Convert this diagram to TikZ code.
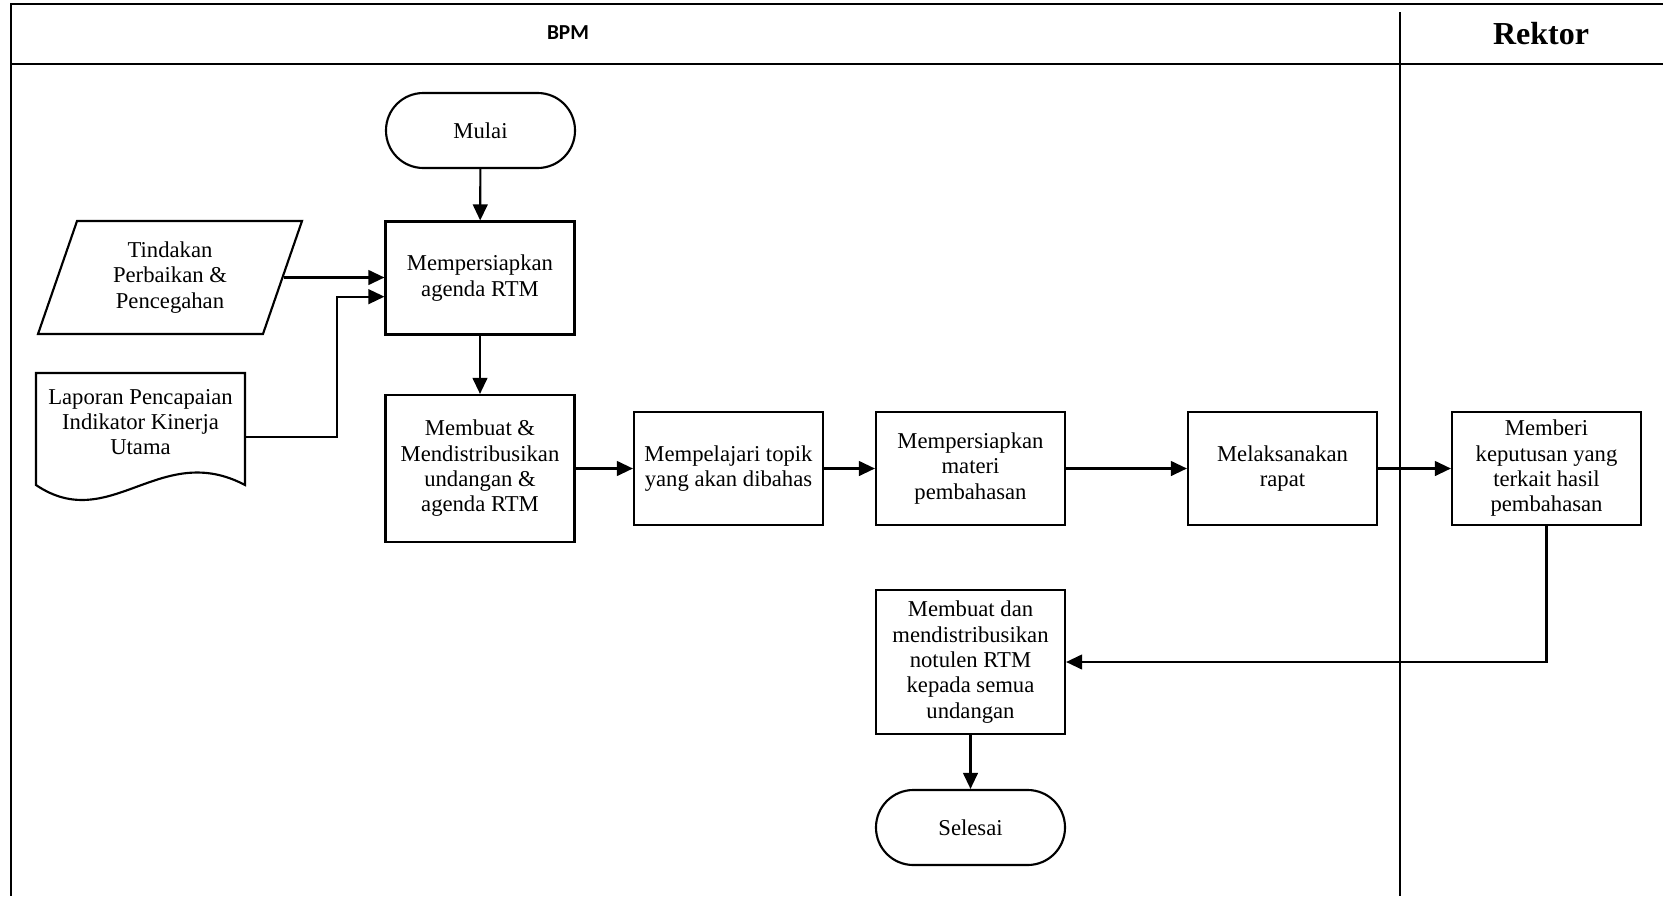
\documentclass[tikz,border=0pt]{standalone}
\usepackage{fontspec}
\setmainfont{Liberation Serif}
\newfontfamily\headfont{Carlito}
\usetikzlibrary{shapes.geometric,arrows.meta}

\tikzset{
  proc/.style={draw, line width=1.6pt, minimum width=141.75pt, minimum height=84.75pt,
    align=center, inner sep=2pt, font=\fontsize{17}{19}\selectfont},
  term/.style={proc, rounded corners=28pt, minimum height=56.25pt},
  io/.style={proc, trapezium, trapezium left angle=63, trapezium right angle=117,
    trapezium stretches body, minimum width=198pt},
  flow/.style={line width=1.6pt, -{Triangle[length=12pt,width=11pt]}},
  lane/.style={line width=1.9pt},
}

\begin{document}
\begin{tikzpicture}[x=0.75pt,y=0.75pt,yscale=-1,xscale=1]
    \useasboundingbox (0,0) rectangle (1663,896);

    %Lanes
    \draw[lane] (1663,4) -- (11,4) -- (11,896);
    \draw[lane] (11,64) -- (1663,64);
    \draw[lane] (1400,12) -- (1400,896);
    % Lane titles
    \node[font=\headfont\bfseries\fontsize{16}{19}\selectfont] (bpm) at (568,33) {BPM};
    \node[font=\bfseries\fontsize{24}{28}\selectfont] (rektor) at (1541,34) {Rektor};

    %Shape: Terminators
    \node[term] (mulai) at (480.5,130.5) {Mulai};
    \node[term] (selesai) at (970.5,827.5) {Selesai};

    %Shape: Process boxes
    \node[proc] (persiapan) at (480,278) {Mempersiapkan\\agenda RTM};
    \node[proc, minimum height=110.25pt] (undangan) at (480,468.5) {Membuat \&\\Mendistribusikan\\undangan \&\\agenda RTM};
    \node[proc] (pelajari) at (728.5,468.5) {Mempelajari topik\\yang akan dibahas};
    \node[proc] (materi) at (970.5,468.5) {Mempersiapkan\\materi\\pembahasan};
    \node[proc] (rapat) at (1282.5,468.5) {Melaksanakan\\rapat};
    \node[proc] (keputusan) at (1546.5,468.5) {Memberi\\keputusan yang\\terkait hasil\\pembahasan};
    \node[proc, minimum height=108pt] (notulen) at (970.5,662) {Membuat dan\\mendistribusikan\\notulen RTM\\kepada semua\\undangan};

    %Shape: Input
    \node[io] (tindakan) at (170,277.5) {Tindakan\\Perbaikan \&\\Pencegahan};

    %Shape: Document
    \draw[line width=1.6pt] (36,485) -- (36,373) -- (245,373) -- (245,485)
        .. controls (160,440) and (110,535) .. (36,485) -- cycle;
    \node[align=center, minimum width=156.75pt, inner sep=2pt, font=\fontsize{17}{19}\selectfont] (laporan) at (140.5,422) {Laporan Pencapaian\\Indikator Kinerja\\Utama};

    %Straight Lines
    \draw[flow] (mulai) -- (persiapan);
    \draw[flow] (tindakan.east) -- (persiapan.west |- tindakan.east);
    \draw[flow] ([yshift=11.25pt]laporan.east) -- ++(92,0) |- ([yshift=14pt]persiapan.west);
    \draw[flow] (persiapan) -- (undangan);
    \draw[flow] (undangan) -- (pelajari);
    \draw[flow] (pelajari) -- (materi);
    \draw[flow] (materi) -- (rapat);
    \draw[flow] (rapat) -- (keputusan);
    \draw[flow] (keputusan.south) |- (notulen.east);
    \draw[flow] (notulen) -- (selesai);

\end{tikzpicture}
\end{document}
